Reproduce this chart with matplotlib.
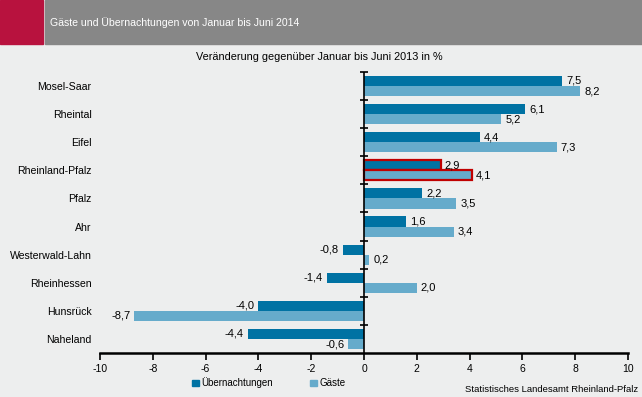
import matplotlib.pyplot as plt
import matplotlib.patches as mpatches
import numpy as np

plt.rcParams['font.family'] = ['Liberation Sans', 'DejaVu Sans']

# data
regions = ['Mosel-Saar', 'Rheintal', 'Eifel', 'Rheinland-Pfalz', 'Pfalz', 'Ahr',
           'Westerwald-Lahn', 'Rheinhessen', 'Hunsrück', 'Naheland']
uebernachtungen = [7.5, 6.1, 4.4, 2.9, 2.2, 1.6, -0.8, -1.4, -4.0, -4.4]
gaeste = [8.2, 5.2, 7.3, 4.1, 3.5, 3.4, 0.2, 2.0, -8.7, -0.6]
highlight = 'Rheinland-Pfalz'

bg = '#EDEEEE'
dark = '#0072A3'
light = '#66ABCB'
red = '#B8123E'

fig = plt.figure(figsize=(6.42, 3.97), dpi=100, facecolor=bg)

# header
fig.patches.append(mpatches.Rectangle((0, 1 - 44/397), 43/642, 44/397,
                                      transform=fig.transFigure, color=red, zorder=0))
fig.patches.append(mpatches.Rectangle((45/642, 1 - 44/397), 1, 44/397,
                                      transform=fig.transFigure, color='#878787', zorder=0))
fig.text(50/642, 1 - 23/397, 'Gäste und Übernachtungen von Januar bis Juni 2014',
         color='white', fontsize=7.6, va='center', ha='left')
fig.text(319/642, 1 - 57/397, 'Veränderung gegenüber Januar bis Juni 2013 in %',
         fontsize=7.8, ha='center', va='center')

ax = fig.add_axes([100/642, 1 - 353/397, 528/642, 281/397])
ax.set_facecolor(bg)

y = np.arange(len(regions))
h = 0.36
b1 = ax.barh(y - h/2, uebernachtungen, height=h, color=dark, zorder=2)
b2 = ax.barh(y + h/2, gaeste, height=h, color=light, zorder=2)

hi = regions.index(highlight)
for bars in (b1, b2):
    bars[hi].set_edgecolor('#C00000')
    bars[hi].set_linewidth(1.6)

def fmt(v):
    return f'{v:.1f}'.replace('.', ',')

for bars, vals in ((b1, uebernachtungen), (b2, gaeste)):
    for bar, v in zip(bars, vals):
        yc = bar.get_y() + bar.get_height()/2
        off = 0.15 if v >= 0 else -0.15
        ax.text(v + off, yc, fmt(v), ha='left' if v >= 0 else 'right',
                va='center', fontsize=8, zorder=3)

ax.set_xlim(-10, 10)
ax.set_ylim(len(regions) - 0.5, -0.5)
ax.set_xticks(np.arange(-10, 11, 2))
ax.set_xticklabels([str(t) for t in range(-10, 11, 2)], fontsize=7.5)
ax.set_yticks(y)
ax.set_yticklabels(regions, fontsize=7.6)
ax.tick_params(axis='y', length=0, pad=6)
ax.tick_params(axis='x', length=5, width=1.2, pad=3)

for s in ('top', 'right', 'left'):
    ax.spines[s].set_visible(False)
ax.spines['bottom'].set_linewidth(1.8)

# zero axis with crossing ticks at category boundaries
ax.axvline(0, color='black', lw=1.2, zorder=3)
bounds = np.arange(len(regions) + 1) - 0.5
ax.plot(np.zeros(len(bounds) - 1), bounds[:-1], ls='none', marker='_',
        markersize=6, color='black', markeredgewidth=1.2, zorder=3, clip_on=False)

handles = [mpatches.Patch(color=dark, label='Übernachtungen'),
           mpatches.Patch(color=light, label='Gäste')]
fig.legend(handles=handles, loc='center', bbox_to_anchor=(269/642, 1 - 383/397),
           ncol=2, frameon=False, fontsize=7,
           handlelength=0.7, handleheight=0.7,
           handletextpad=0.3, columnspacing=3.8)

fig.text(638/642, 1 - 389/397, 'Statistisches Landesamt Rheinland-Pfalz',
         fontsize=6.8, ha='right', va='center')

fig.savefig('out.png', dpi=100, facecolor=bg)
